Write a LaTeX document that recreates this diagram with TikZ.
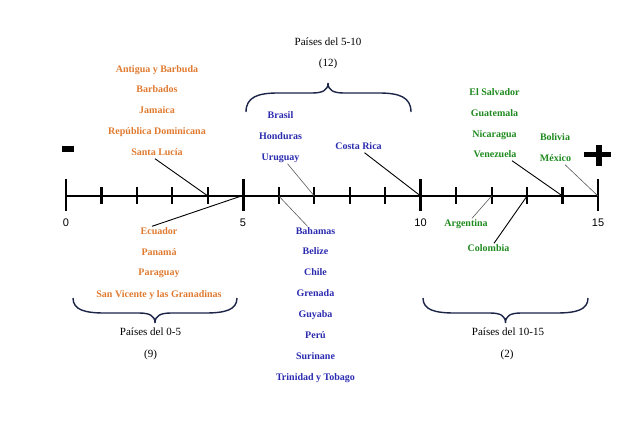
\documentclass[tikz,border=0pt]{standalone}
\usepackage{fontspec}
\setmainfont{Liberation Serif}
\newfontfamily\numfont{Liberation Sans}
\definecolor{corange}{RGB}{224,122,48}
\definecolor{cblue}{RGB}{43,43,176}
\definecolor{cgreen}{RGB}{31,138,31}
\definecolor{cbrace}{RGB}{28,36,72}
\begin{document}
\begin{tikzpicture}[x=1pt,y=-1pt,
  country/.style={font=\fontsize{10}{12}\selectfont\bfseries, inner sep=1pt, text height=7pt, text depth=2pt},
  orangec/.style={country, text=corange},
  bluec/.style={country, text=cblue},
  greenc/.style={country, text=cgreen},
  captxt/.style={font=\fontsize{11}{13}\selectfont, inner sep=1pt, text height=7.5pt, text depth=2.5pt},
  numlab/.style={font=\numfont\fontsize{11}{13}\selectfont, inner sep=0pt, anchor=base},
  axisline/.style={line width=1.2pt},
  majortick/.style={line width=2.6pt},
  minortick/.style={line width=2.1pt},
  leader/.style={line width=0.9pt, black},
  leadergray/.style={line width=0.6pt, black!65},
  bracestyle/.style={cbrace, line width=1.4pt}]
\useasboundingbox (0,0) rectangle (636,424);

% ticks and axis
\foreach \i in {0,...,15}{
  \coordinate (t\i) at ({66+35.4667*\i},196);
}
\draw[axisline] (t0) -- (t15);
\foreach \i in {0,5,10,15}{
  \draw[majortick] ([yshift=17pt]t\i) -- ([yshift=-15pt]t\i);
}
\foreach \i in {1,2,3,4,6,7,8,9,11,12,13,14}{
  \draw[minortick] ([yshift=9pt]t\i) -- ([yshift=-8pt]t\i);
}
\node[numlab] (n0) at (66,226) {0};
\node[numlab] (n5) at (243,226) {5};
\node[numlab] (n10) at (420.5,226) {10};
\node[numlab] (n15) at (598,226) {15};

% minus and plus
\fill (62,146) rectangle (74,151.5);
\fill (584.3,151.7) rectangle (610.7,157.3);
\fill (595.7,145) rectangle (601.7,166);

% orange countries
\node[orangec] (antigua) at (157,70) {Antigua y Barbuda};
\node[orangec] (barbados) at (157,90) {Barbados};
\node[orangec] (jamaica) at (157,111) {Jamaica};
\node[orangec] (repdom) at (157,132) {República Dominicana};
\node[orangec] (santalucia) at (157,153) {Santa Lucía};
\node[orangec] (ecuador) at (159,232) {Ecuador};
\node[orangec] (panama) at (159,253) {Panamá};
\node[orangec] (paraguay) at (159,273) {Paraguay};
\node[orangec] (sanvicente) at (159,295) {San Vicente y las Granadinas};

% blue countries
\node[bluec] (brasil) at (280.5,116) {Brasil};
\node[bluec] (honduras) at (280.5,137) {Honduras};
\node[bluec] (uruguay) at (280.5,158) {Uruguay};
\node[bluec] (costarica) at (358.5,147) {Costa Rica};
\node[bluec] (bahamas) at (315.5,232) {Bahamas};
\node[bluec] (belize) at (315.5,252) {Belize};
\node[bluec] (chile) at (315.5,273) {Chile};
\node[bluec] (grenada) at (315.5,294) {Grenada};
\node[bluec] (guyaba) at (315.5,315) {Guyaba};
\node[bluec] (peru) at (315.5,336) {Perú};
\node[bluec] (surinane) at (315.5,357) {Surinane};
\node[bluec] (trinidad) at (315.5,378) {Trinidad y Tobago};

% green countries
\node[greenc] (elsalvador) at (494.5,93) {El Salvador};
\node[greenc] (guatemala) at (494.5,114) {Guatemala};
\node[greenc] (nicaragua) at (494.5,135) {Nicaragua};
\node[greenc] (venezuela) at (495,155) {Venezuela};
\node[greenc] (bolivia) at (555,138) {Bolivia};
\node[greenc] (mexico) at (555.5,159) {México};
\node[greenc] (argentina) at (466,224) {Argentina};
\node[greenc] (colombia) at (488.5,249) {Colombia};

% captions
\node[captxt] (cap510) at (328,43) {Países del 5-10};
\node[captxt] (n12) at (328,64) {(12)};
\node[captxt] (cap05) at (150.5,333) {Países del 0-5};
\node[captxt] (n9) at (150.5,355) {(9)};
\node[captxt] (cap1015) at (508,333) {Países del 10-15};
\node[captxt] (n2) at (507,355) {(2)};

% leaders
\draw[leader] ([xshift=-2pt]santalucia.south) -- (t4);
\draw[leader] ([xshift=-7pt]ecuador.north) -- ([xshift=-2pt]t5);
\draw[leadergray] ([xshift=7pt]uruguay.south) -- (t7);
\draw[leadergray] (t6) -- ([xshift=-8pt]bahamas.north);
\draw[leader] ([xshift=6pt]costarica.south) -- (t10);
\draw[leader] ([xshift=17pt]venezuela.south) -- (t14);
\draw[leadergray] ([xshift=9.5pt]mexico.south) -- (t15);
\draw[leadergray] ([xshift=6pt]argentina.north) -- (t12);
\draw[leader] ([xshift=5.5pt]colombia.north) -- (t13);

% braces
\draw[bracestyle] (246,112) .. controls (246,97) and (258,93) .. (278,93) -- (312,93)
  .. controls (323,93) and (328,90) .. (328,83)
  .. controls (328,90) and (333,93) .. (344,93) -- (379,93)
  .. controls (399,93) and (411,97) .. (411,112);
\draw[bracestyle] (73,298) .. controls (73,310) and (85,313) .. (105,313) -- (139,313)
  .. controls (150,313) and (155,316) .. (155,323)
  .. controls (155,316) and (160,313) .. (171,313) -- (205,313)
  .. controls (225,313) and (237,310) .. (237,298);
\draw[bracestyle] (423,298) .. controls (423,310) and (435,313) .. (455,313) -- (490,313)
  .. controls (501,313) and (505.5,316) .. (505.5,323)
  .. controls (505.5,316) and (510,313) .. (521,313) -- (556,313)
  .. controls (576,313) and (588,310) .. (588,298);
\end{tikzpicture}
\end{document}
